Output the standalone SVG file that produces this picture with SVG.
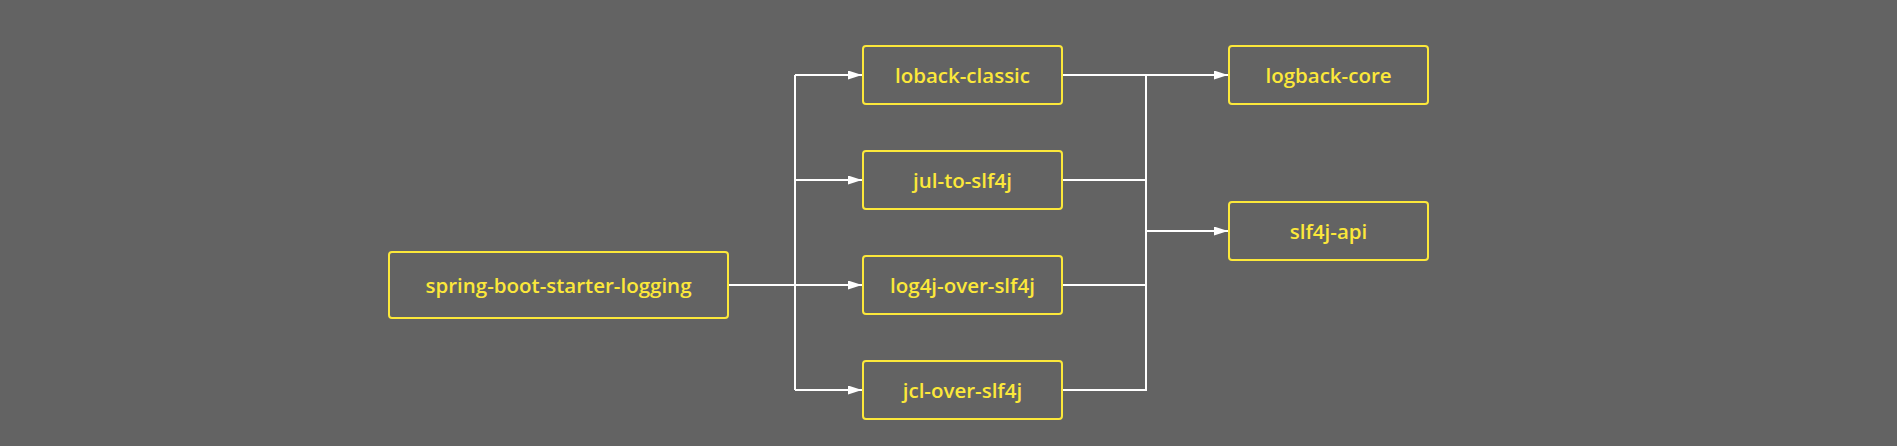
<svg xmlns="http://www.w3.org/2000/svg" width="1897" height="446" viewBox="0 0 1897 446">
<style>
.box{fill:none;stroke:#fce83a;stroke-width:2}
.lbl{fill:#fce83a;font-family:"Open Sans","Noto Sans",sans-serif;font-size:20.5px;font-weight:600;text-anchor:middle;dominant-baseline:central}
.ln{fill:none;stroke:#ffffff;stroke-width:2}
</style>
<defs>
<marker id="ah" viewBox="0 0 14 9" refX="14" refY="4.5" markerWidth="14" markerHeight="9" markerUnits="userSpaceOnUse" orient="auto">
<path d="M0,0 L14,4.5 L0,9 Z" fill="#ffffff"/>
</marker>
</defs>
<rect width="1897" height="446" fill="#636363"/>
<g id="connectors">
<path class="ln" d="M728,285 H795"/>
<path class="ln" d="M795,75 V390"/>
<path class="ln" d="M795,75 H862" marker-end="url(#ah)"/>
<path class="ln" d="M795,180 H862" marker-end="url(#ah)"/>
<path class="ln" d="M795,285 H862" marker-end="url(#ah)"/>
<path class="ln" d="M795,390 H862" marker-end="url(#ah)"/>
<path class="ln" d="M1062,75 H1146"/>
<path class="ln" d="M1062,180 H1146"/>
<path class="ln" d="M1062,285 H1146"/>
<path class="ln" d="M1062,390 H1146"/>
<path class="ln" d="M1146,75 V391"/>
<path class="ln" d="M1146,75 H1228" marker-end="url(#ah)"/>
<path class="ln" d="M1146,231 H1228" marker-end="url(#ah)"/>
</g>
<g id="root"><rect class="box" x="389" y="252" width="339" height="66" rx="3"/><text class="lbl" x="558.5" y="285">spring-boot-starter-logging</text></g>
<g id="loback-classic"><rect class="box" x="863" y="46" width="199" height="58" rx="3"/><text class="lbl" x="962.5" y="75">loback-classic</text></g>
<g id="jul-to-slf4j"><rect class="box" x="863" y="151" width="199" height="58" rx="3"/><text class="lbl" x="962.5" y="180">jul-to-slf4j</text></g>
<g id="log4j-over-slf4j"><rect class="box" x="863" y="256" width="199" height="58" rx="3"/><text class="lbl" x="962.5" y="285">log4j-over-slf4j</text></g>
<g id="jcl-over-slf4j"><rect class="box" x="863" y="361" width="199" height="58" rx="3"/><text class="lbl" x="962.5" y="390">jcl-over-slf4j</text></g>
<g id="logback-core"><rect class="box" x="1229" y="46" width="199" height="58" rx="3"/><text class="lbl" x="1328.5" y="75">logback-core</text></g>
<g id="slf4j-api"><rect class="box" x="1229" y="202" width="199" height="58" rx="3"/><text class="lbl" x="1328.5" y="231">slf4j-api</text></g>
</svg>
